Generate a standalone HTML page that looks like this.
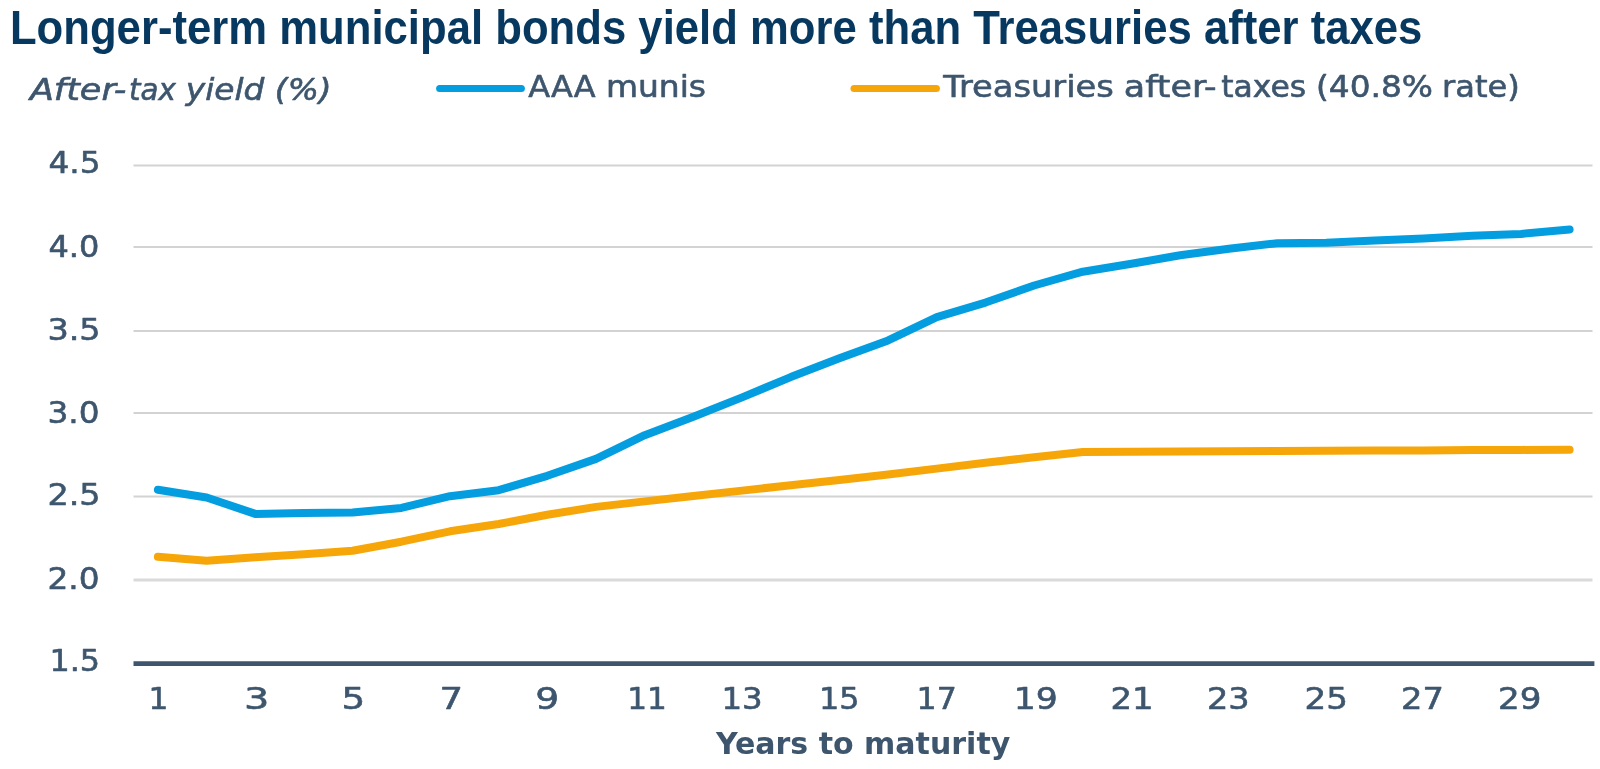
<!DOCTYPE html>
<html lang="en"><head><meta charset="utf-8"><title>Longer-term municipal bonds yield more than Treasuries after taxes</title>
<style>
html,body{margin:0;padding:0;background:#fff;}
body{width:1600px;height:769px;overflow:hidden;font-family:"Liberation Sans",sans-serif;}
svg{display:block;filter:blur(0.45px);}
svg text{font-family:"DejaVu Sans","Liberation Sans",sans-serif;font-size:29.3px;fill:#3d566e;stroke:#3d566e;stroke-width:0.6;stroke-linejoin:round;}
svg text.h{font-family:"Liberation Sans",sans-serif;font-size:48.8px;font-weight:bold;fill:#07385f;stroke:none;}
svg text.b{font-weight:bold;stroke:none;}
svg text.i{font-style:italic;}
</style></head><body>
<svg width="1600" height="769" viewBox="0 0 1600 769">
<rect width="1600" height="769" fill="#ffffff"/>
<line x1="133.5" y1="165.5" x2="1592.5" y2="165.5" stroke="#d3d3d3" stroke-width="2"/>
<line x1="133.5" y1="247.0" x2="1592.5" y2="247.0" stroke="#d3d3d3" stroke-width="2"/>
<line x1="133.5" y1="331.0" x2="1592.5" y2="331.0" stroke="#d3d3d3" stroke-width="2"/>
<line x1="133.5" y1="413.0" x2="1592.5" y2="413.0" stroke="#d3d3d3" stroke-width="2"/>
<line x1="133.5" y1="496.5" x2="1592.5" y2="496.5" stroke="#d3d3d3" stroke-width="2"/>
<line x1="133.5" y1="580.0" x2="1592.5" y2="580.0" stroke="#dadada" stroke-width="3"/>
<line x1="133.5" y1="663.6" x2="1594.4" y2="663.6" stroke="#3d566e" stroke-width="4.6"/>
<line x1="439.6" y1="88.6" x2="521.4" y2="88.6" stroke="#049ee0" stroke-width="7" stroke-linecap="round"/>
<line x1="854" y1="88.6" x2="936.4" y2="88.6" stroke="#f6a608" stroke-width="7" stroke-linecap="round"/>
<text class="h" x="9.9" y="44.2" textLength="1412.5" lengthAdjust="spacingAndGlyphs">Longer-term municipal bonds yield more than Treasuries after taxes</text>
<text class="i" font-size="28.0" x="29.9" y="100.3" textLength="96.6" lengthAdjust="spacingAndGlyphs">After-</text>
<text class="i" font-size="28.0" x="129.0" y="100.3" textLength="46.8" lengthAdjust="spacingAndGlyphs">tax</text>
<text class="i" font-size="28.0" x="185.8" y="100.3" textLength="145.8" lengthAdjust="spacingAndGlyphs">yield (%)</text>
<text font-size="28.0" x="528.3" y="97" textLength="67.4" lengthAdjust="spacingAndGlyphs">AAA</text>
<text font-size="28.0" x="605.9" y="97" textLength="100.1" lengthAdjust="spacingAndGlyphs">munis</text>
<text font-size="28.0" x="943.3" y="96.6" textLength="170.5" lengthAdjust="spacingAndGlyphs">Treasuries</text>
<text font-size="28.0" x="1123.8" y="96.6" textLength="92.8" lengthAdjust="spacingAndGlyphs">after-</text>
<text font-size="28.0" x="1221.2" y="96.6" textLength="84.9" lengthAdjust="spacingAndGlyphs">taxes</text>
<text font-size="28.0" x="1316.0" y="96.6" textLength="116.9" lengthAdjust="spacingAndGlyphs">(40.8%</text>
<text font-size="28.0" x="1442.0" y="96.6" textLength="77.8" lengthAdjust="spacingAndGlyphs">rate)</text>
<text font-size="30.0" x="48.5" y="173.2" textLength="52.1" lengthAdjust="spacingAndGlyphs">4.5</text>
<text font-size="30.0" x="48.5" y="256.6" textLength="50.9" lengthAdjust="spacingAndGlyphs">4.0</text>
<text font-size="30.0" x="47.4" y="339.5" textLength="53.3" lengthAdjust="spacingAndGlyphs">3.5</text>
<text font-size="30.0" x="47.4" y="422.8" textLength="52.1" lengthAdjust="spacingAndGlyphs">3.0</text>
<text font-size="30.0" x="47.4" y="505.2" textLength="53.3" lengthAdjust="spacingAndGlyphs">2.5</text>
<text font-size="30.0" x="47.4" y="588.6" textLength="52.1" lengthAdjust="spacingAndGlyphs">2.0</text>
<text font-size="30.0" x="49.4" y="670.8" textLength="50.6" lengthAdjust="spacingAndGlyphs">1.5</text>
<text x="148.6" y="709.4" textLength="19.8" lengthAdjust="spacingAndGlyphs">1</text>
<text x="244.0" y="709.4" textLength="25.3" lengthAdjust="spacingAndGlyphs">3</text>
<text x="341.4" y="709.4" textLength="23.7" lengthAdjust="spacingAndGlyphs">5</text>
<text x="439.4" y="709.4" textLength="23.6" lengthAdjust="spacingAndGlyphs">7</text>
<text x="535.3" y="709.4" textLength="23.9" lengthAdjust="spacingAndGlyphs">9</text>
<text x="627.3" y="709.4" textLength="39.5" lengthAdjust="spacingAndGlyphs">11</text>
<text x="721.5" y="709.4" textLength="41.2" lengthAdjust="spacingAndGlyphs">13</text>
<text x="819.0" y="709.4" textLength="40.5" lengthAdjust="spacingAndGlyphs">15</text>
<text x="916.6" y="709.4" textLength="40.2" lengthAdjust="spacingAndGlyphs">17</text>
<text x="1013.8" y="709.4" textLength="44.0" lengthAdjust="spacingAndGlyphs">19</text>
<text x="1110.4" y="709.4" textLength="43.1" lengthAdjust="spacingAndGlyphs">21</text>
<text x="1207.0" y="709.4" textLength="42.7" lengthAdjust="spacingAndGlyphs">23</text>
<text x="1304.5" y="709.4" textLength="43.4" lengthAdjust="spacingAndGlyphs">25</text>
<text x="1401.0" y="709.4" textLength="42.9" lengthAdjust="spacingAndGlyphs">27</text>
<text x="1498.0" y="709.4" textLength="43.4" lengthAdjust="spacingAndGlyphs">29</text>
<text class="b" font-size="28.0" x="716.0" y="753.6" textLength="294.3" lengthAdjust="spacingAndGlyphs">Years to maturity</text>
<polyline fill="none" stroke="#f6a608" stroke-width="8" stroke-linecap="round" stroke-linejoin="round" points="157.9,556.8 206.6,560.7 255.3,557.3 303.9,554.2 352.6,550.8 401.3,541.7 450.0,531.3 498.7,524.0 547.3,514.7 596.0,506.9 644.7,501.4 693.4,496.1 742.1,490.6 790.7,485.3 839.4,479.9 888.1,474.5 936.8,468.6 985.5,462.8 1034.1,457.3 1082.8,451.9 1131.5,451.7 1180.2,451.5 1228.9,451.3 1277.5,451.0 1326.2,450.8 1374.9,450.6 1423.6,450.4 1472.3,450.1 1520.9,449.9 1569.6,449.7"/>
<polyline fill="none" stroke="#049ee0" stroke-width="8" stroke-linecap="round" stroke-linejoin="round" points="157.9,489.7 206.6,497.5 255.3,513.9 303.9,513.1 352.6,512.6 401.3,507.9 450.0,496.2 498.7,490.2 547.3,475.8 596.0,458.9 644.7,435.2 693.4,416.7 742.1,397.4 790.7,377.1 839.4,358.2 888.1,340.4 936.8,317.2 985.5,302.6 1034.1,285.5 1082.8,271.7 1131.5,263.7 1180.2,255.3 1228.9,248.7 1277.5,243.2 1326.2,242.8 1374.9,240.5 1423.6,238.5 1472.3,235.8 1520.9,233.9 1569.6,229.6"/>
</svg></body></html>
